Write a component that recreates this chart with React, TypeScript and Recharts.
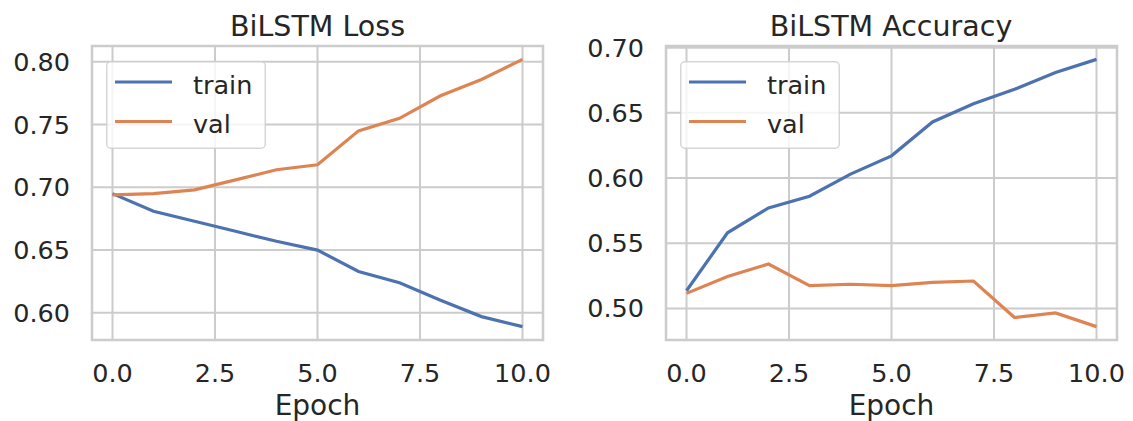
import React from 'react';
import { LineChart, Line, XAxis, YAxis, CartesianGrid, ReferenceArea, Legend } from 'recharts';

const epochs = [0, 1, 2, 3, 4, 5, 6, 7, 8, 9, 10];
const lossTrain = [0.695, 0.681, 0.673, 0.665, 0.657, 0.65, 0.633, 0.624, 0.61, 0.597, 0.589];
const lossVal = [0.694, 0.695, 0.698, 0.706, 0.714, 0.718, 0.745, 0.755, 0.773, 0.786, 0.802];
const accTrain = [0.5135, 0.558, 0.577, 0.586, 0.603, 0.617, 0.643, 0.657, 0.668, 0.681, 0.691];
const accVal = [0.5115, 0.5245, 0.534, 0.5175, 0.5185, 0.5175, 0.52, 0.521, 0.493, 0.4965, 0.486];
const xTicks = [0, 2.5, 5, 7.5, 10];
const lossTicks = [0.6, 0.65, 0.7, 0.75, 0.8];
const accTicks = [0.5, 0.55, 0.6, 0.65, 0.7];
const seriesNames = ['train', 'val'];
const titles = ['BiLSTM Loss', 'BiLSTM Accuracy'];
const xLabel = 'Epoch';

const FONT = 'DejaVu Sans';
const TEXT = '#262626';
const GRID = '#cccccc';
const BLUE = '#4C72B0';
const ORANGE = '#DD8452';

function buildRows(train: number[], val: number[]) {
  return epochs.map((e, i) => ({ epoch: e, train: train[i], val: val[i] }));
}

function paddedDomain(a: number[], b: number[]): [number, number] {
  const all = [...a, ...b];
  const lo = Math.min(...all);
  const hi = Math.max(...all);
  const m = (hi - lo) * 0.05;
  return [lo - m, hi + m];
}

const renderLegend = (props: any) => {
  const payload = props.payload || [];
  return (
    <svg width={160} height={88} style={{ display: 'block' }}>
      <rect x={0.75} y={0.75} width={158.5} height={86.5} rx={4} fill="#ffffff" fillOpacity={0.8} stroke={GRID} strokeOpacity={0.8} strokeWidth={1.5} />
      {payload.map((e: any, i: number) => (
        <g key={i}>
          <line x1={9} x2={66} y1={21 + 39.5 * i} y2={21 + 39.5 * i} stroke={e.color} strokeWidth={3.2} />
          <text x={87} y={32.5 + 39 * i} fontSize={25.5} fill={TEXT} fontFamily={FONT}>{e.value}</text>
        </g>
      ))}
    </svg>
  );
};

type PanelProps = {
  train: number[];
  val: number[];
  yTicks: number[];
  width: number;
  yAxisWidth: number;
  rightMargin: number;
  legendLeft: number;
};

function Panel({ train, val, yTicks, width, yAxisWidth, rightMargin, legendLeft }: PanelProps) {
  const data = buildRows(train, val);
  const yDomain = paddedDomain(train, val);
  return (
    <LineChart width={width} height={421} data={data} margin={{ top: 46, right: rightMargin, bottom: 0, left: 0 }}>
      <CartesianGrid stroke={GRID} strokeWidth={2} />
      <ReferenceArea x1={-0.5} x2={10.5} y1={yDomain[0]} y2={yDomain[1]} fill="none" stroke={GRID} strokeWidth={2.5} strokeOpacity={1} fillOpacity={0} />
      <XAxis
        dataKey="epoch"
        type="number"
        domain={[-0.5, 10.5]}
        ticks={xTicks}
        allowDataOverflow
        tickFormatter={(v: number) => v.toFixed(1)}
        tickLine={false}
        axisLine={false}
        tickSize={0}
        tickMargin={24}
        height={81}
        interval={0}
        tick={{ fontSize: 25.5, fill: TEXT, fontFamily: FONT }}
        label={{ value: xLabel, position: 'insideBottom', offset: 6, fill: TEXT, fontSize: 28, fontFamily: FONT }}
      />
      <YAxis
        type="number"
        domain={yDomain}
        ticks={yTicks}
        allowDataOverflow
        tickFormatter={(v: number) => v.toFixed(2)}
        tickLine={false}
        axisLine={false}
        tickSize={0}
        tickMargin={22}
        width={yAxisWidth}
        interval={0}
        tick={{ fontSize: 25.5, fill: TEXT, fontFamily: FONT }}
      />
      <Legend
        verticalAlign="middle"
        align="center"
        content={renderLegend}
        wrapperStyle={{ position: 'absolute', left: legendLeft, top: 61, width: 160, height: 88 }}
      />
      <Line type="linear" dataKey="train" name={seriesNames[0]} stroke={BLUE} strokeWidth={3.2} dot={false} isAnimationActive={false} />
      <Line type="linear" dataKey="val" name={seriesNames[1]} stroke={ORANGE} strokeWidth={3.2} dot={false} isAnimationActive={false} />
    </LineChart>
  );
}

export default function App() {
  return (
    <div style={{ position: 'absolute', left: 0, top: 0, width: 1133, height: 421, background: '#ffffff' }}>
      <div style={{ position: 'absolute', left: 0, top: 0 }}>
        <Panel train={lossTrain} val={lossVal} yTicks={lossTicks} width={566} yAxisWidth={92} rightMargin={23} legendLeft={106} />
      </div>
      <div style={{ position: 'absolute', left: 566, top: 0 }}>
        <Panel train={accTrain} val={accVal} yTicks={accTicks} width={567} yAxisWidth={100} rightMargin={16} legendLeft={114} />
      </div>
      <svg width={1133} height={50} style={{ position: 'absolute', left: 0, top: 0, pointerEvents: 'none' }}>
        <text x={317.5} y={36} textAnchor="middle" fontSize={28.5} fill={TEXT} fontFamily={FONT}>{titles[0]}</text>
        <text x={891} y={36} textAnchor="middle" fontSize={28.5} fill={TEXT} fontFamily={FONT}>{titles[1]}</text>
      </svg>
    </div>
  );
}
